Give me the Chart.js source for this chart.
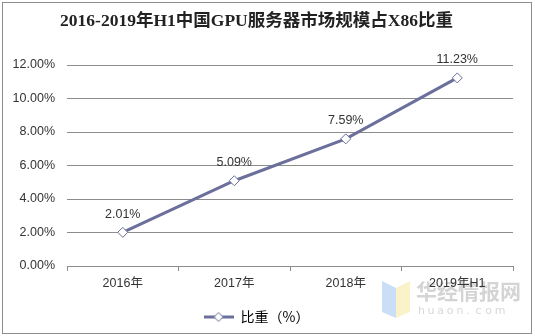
<!DOCTYPE html>
<html>
<head>
<meta charset="utf-8">
<script src="https://cdn.jsdelivr.net/npm/chart.js@4"></script>
<style>
  html, body { margin: 0; padding: 0; background: #fff; }
  #wrap { width: 535px; height: 336px; position: relative; }
</style>
</head>
<body>
<div id="wrap"><canvas id="lineChart" width="535" height="336"></canvas></div>
<script>
// chart data
const years = ['2016年', '2017年', '2018年', '2019年H1'];
const shares = [2.01, 5.09, 7.59, 11.23];
const yTicks = [0, 2, 4, 6, 8, 10, 12];

const lineColor = '#6b6f9b';
const sans = '"Liberation Sans", Arial, "Noto Sans CJK SC", sans-serif';

// legend sample: short line with a diamond on it
const legendIcon = document.createElement('canvas');
legendIcon.width = 30; legendIcon.height = 12;
(function () {
  const c = legendIcon.getContext('2d');
  c.strokeStyle = lineColor; c.lineWidth = 3;
  c.beginPath(); c.moveTo(0, 6); c.lineTo(30, 6); c.stroke();
  c.fillStyle = '#fff'; c.lineWidth = 1;
  c.beginPath(); c.moveTo(15, 1.5); c.lineTo(19.5, 6); c.lineTo(15, 10.5); c.lineTo(10.5, 6); c.closePath();
  c.fill(); c.stroke();
})();

// frame, background and watermark
const framePlugin = {
  id: 'frame',
  beforeDraw(chart) {
    const ctx = chart.ctx;
    ctx.save();
    ctx.fillStyle = '#fff';
    ctx.fillRect(0, 0, chart.width, chart.height);
    ctx.strokeStyle = '#8c8c8c';
    ctx.lineWidth = 1;
    ctx.strokeRect(2.5, 2.5, 529, 331);
    // watermark
    ctx.globalAlpha = 0.55;
    ctx.fillStyle = '#9ec3f2';
    ctx.beginPath(); ctx.moveTo(382, 281); ctx.lineTo(396, 288); ctx.lineTo(396, 318); ctx.lineTo(382, 312); ctx.closePath(); ctx.fill();
    ctx.fillStyle = '#f6e79a';
    ctx.beginPath(); ctx.moveTo(396, 288); ctx.lineTo(410, 281); ctx.lineTo(410, 312); ctx.lineTo(396, 318); ctx.closePath(); ctx.fill();
    ctx.globalAlpha = 1;
    ctx.fillStyle = '#d4d4d4';
    ctx.font = 'bold 21px "Noto Sans CJK SC", sans-serif';
    ctx.textBaseline = 'middle';
    ctx.fillText('华经情报网', 416, 291);
    ctx.font = '11px "DejaVu Sans", sans-serif';
    ctx.fillStyle = '#d8d8d8';
    const w = 'huaon.com';
    for (let i = 0; i < w.length; i++) ctx.fillText(w[i], 418 + i * 9.6, 311);
    ctx.restore();
  }
};

// value labels above the points
const valueLabels = {
  id: 'valueLabels',
  afterDatasetsDraw(chart) {
    const ctx = chart.ctx;
    const meta = chart.getDatasetMeta(0);
    ctx.save();
    ctx.font = '12.5px ' + sans;
    ctx.fillStyle = '#333';
    ctx.textAlign = 'center';
    ctx.textBaseline = 'middle';
    meta.data.forEach((pt, i) => {
      ctx.fillText(shares[i].toFixed(2) + '%', pt.x, pt.y - 18);
    });
    ctx.restore();
  }
};

new Chart(document.getElementById('lineChart'), {
  type: 'line',
  data: {
    labels: years,
    datasets: [{
      label: '比重（%）',
      data: shares,
      borderColor: lineColor,
      borderWidth: 3,
      pointStyle: 'rectRot',
      pointRadius: 5,
      pointBorderWidth: 1,
      pointBackgroundColor: '#fff',
      pointBorderColor: lineColor,
      tension: 0
    }]
  },
  options: {
    responsive: false,
    animation: false,
    layout: { padding: { left: 0, right: 22, top: 0, bottom: 2 } },
    plugins: {
      title: {
        display: true,
        text: '2016-2019年H1中国GPU服务器市场规模占X86比重',
        color: '#222',
        font: { family: '"Liberation Serif", "Noto Sans CJK SC", serif', size: 17.5, weight: 'bold' },
        padding: { top: 11, bottom: 33 }
      },
      legend: {
        position: 'bottom',
        labels: {
          usePointStyle: true,
          pointStyleWidth: 30,
          color: '#333',
          font: { family: '"Noto Sans CJK SC", sans-serif', size: 14 },
          padding: 8,
          generateLabels: chart => [{
            text: chart.data.datasets[0].label,
            pointStyle: legendIcon,
            fillStyle: '#fff',
            strokeStyle: lineColor,
            lineWidth: 0,
            datasetIndex: 0
          }]
        }
      },
      tooltip: { enabled: false }
    },
    scales: {
      x: {
        offset: true,
        afterFit: s => { s.height = 36; },
        grid: { offset: true, drawOnChartArea: false, color: '#8c8c8c', tickLength: 5 },
        border: { color: '#8c8c8c' },
        ticks: { color: '#333', font: { family: sans, size: 12.5 }, padding: 5 }
      },
      y: {
        min: 0,
        max: 12,
        afterFit: s => { s.width = 67; },
        afterBuildTicks: s => { s.ticks = yTicks.map(v => ({ value: v })); },
        grid: { color: '#8c8c8c', drawTicks: false },
        border: { display: false },
        ticks: {
          color: '#333',
          padding: 12,
          font: { family: sans, size: 12.5 },
          callback: v => v.toFixed(2) + '%'
        }
      }
    }
  },
  plugins: [framePlugin, valueLabels]
});
</script>
</body>
</html>
